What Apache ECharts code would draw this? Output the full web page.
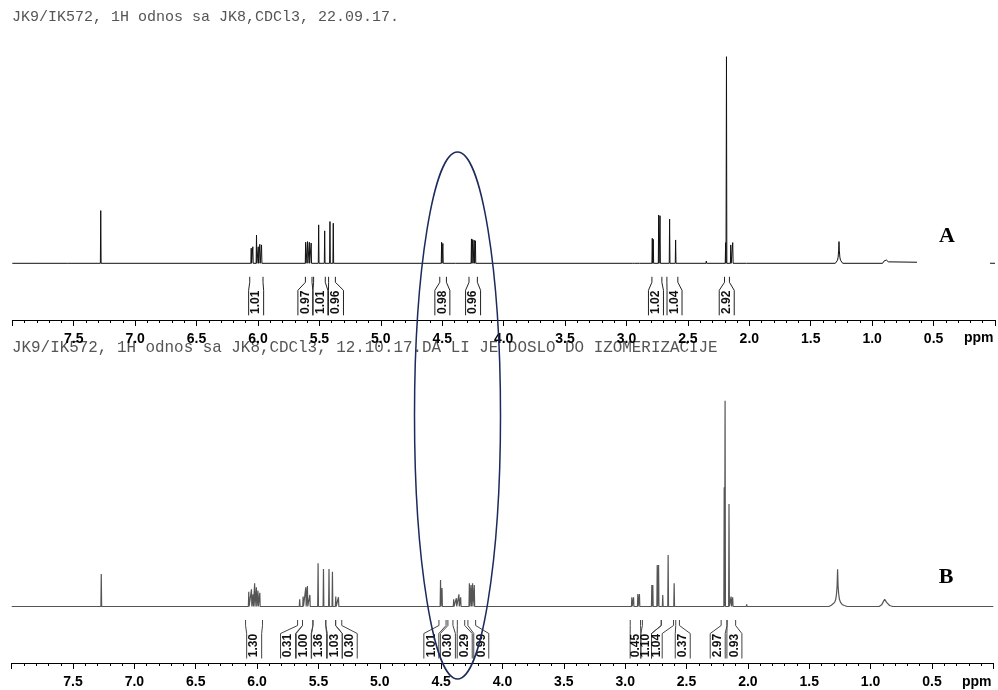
<!DOCTYPE html>
<html><head><meta charset="utf-8">
<script src="https://cdn.jsdelivr.net/npm/echarts@6/dist/echarts.min.js"></script>
<style>html,body{margin:0;padding:0;background:#fff}#c{width:998px;height:690px}</style>
</head><body><div id="c"></div>
<script>
// ---------------- DATA ----------------
const titleA = 'JK9/IK572, 1H odnos sa JK8,CDCl3, 22.09.17.';
const titleB = 'JK9/IK572, 1H odnos sa JK8,CDCl3, 12.10.17.DA LI JE DOSLO DO IZOMERIZACIJE';
const axisUnit = 'ppm';
const ppmMin = 0.0, ppmMax = 8.0, ppmStep = 0.5;
const tickLabels = [7.5, 7.0, 6.5, 6.0, 5.5, 5.0, 4.5, 4.0, 3.5, 3.0, 2.5, 2.0, 1.5, 1.0, 0.5];
const panelLabels = ['A', 'B'];

// sharp lines: [ppm, relative intensity] (tallest = 100)
const peaksA = [
  [7.78,0.5],[7.55,0.6],[7.28,25.5],
  [6.055,7.3],[6.042,8.0],[6.012,13.7],[5.998,8.0],[5.985,9.2],[5.971,8.9],
  [5.612,10.2],[5.597,10.5],[5.582,10.2],[5.567,9.8],
  [5.506,18.6],[5.457,15.7],[5.414,20.2],[5.387,19.4],
  [4.505,10.2],[4.495,9.6],
  [4.39,0.8],[4.36,0.6],
  [4.262,11.8],[4.252,11.5],[4.240,11.2],[4.230,10.9],
  [2.95,0.6],[2.93,0.8],[2.89,0.6],
  [2.790,12.1],[2.782,11.6],
  [2.738,23.4],[2.727,23.0],
  [2.649,21.4],
  [2.600,11.3],
  [2.35,1.1],
  [2.193,10.0],[2.186,100],
  [2.151,8.9],[2.135,10.0],
  [2.02,0.8]
];
// broad profiles: [ppm, relative intensity]
const broadA = [
  [1.30,0],[1.288,0.8],[1.282,1.5],[1.277,3],[1.273,6],[1.27,10.5],[1.267,6],[1.263,3],[1.258,1.5],[1.252,0.8],[1.24,0],
  [0.915,0],[0.905,1.0],[0.9,1.6],[0.895,1.4],[0.89,1.9],[0.885,1.6],[0.88,1.7],[0.875,1.2],[0.868,0.7],[0.855,0]
];

const peaksB = [
  [7.27,15.8],
  [6.068,7.2],[6.046,8.4],[6.033,5.9],[6.020,11.3],[6.006,9.3],[5.993,7.7],[5.978,6.7],
  [5.653,3.5],[5.625,4.8],[5.603,9.3],[5.590,10.0],[5.570,5.6],
  [5.503,21.0],[5.459,18.2],[5.414,18.2],[5.386,16.9],[5.359,4.8],[5.337,4.5],
  [4.505,12.9],[4.493,9.0],
  [4.398,3.5],[4.376,4.0],[4.355,5.9],[4.341,4.5],
  [4.270,11.3],[4.257,10.4],[4.244,11.3],[4.230,10.4],
  [2.946,4.5],[2.932,4.5],[2.897,6.1],[2.884,6.1],
  [2.783,10.4],[2.775,10.4],
  [2.739,20.2],[2.728,20.2],
  [2.694,5.6],
  [2.650,25.0],
  [2.601,11.3],
  [2.35,0.8],
  [2.193,58],[2.186,100],
  [2.154,49.8],
  [2.137,4.8],[2.124,4.5],
  [2.01,1.0]
];
const broadB = [
  [1.34,0],[1.32,0.6],[1.305,1.0],[1.293,2.0],[1.284,3.5],[1.278,6],[1.273,10],[1.269,18.1],[1.265,10],[1.26,6],[1.254,3.5],[1.245,2.0],[1.232,1.0],[1.215,0.5],[1.19,0],
  [0.93,0],[0.91,0.8],[0.90,1.6],[0.895,2.5],[0.89,3.0],[0.885,3.5],[0.88,3.4],[0.875,2.8],[0.87,2.0],[0.86,1.2],[0.845,0.5],[0.82,0]
];

// integrals: [from ppm, to ppm, label ppm, value]
const integralsA = [
  [6.067,5.959,6.015,1.01],
  [5.614,5.560,5.614,0.97],
  [5.547,5.452,5.492,1.01],
  [5.425,5.370,5.365,0.96],
  [4.520,4.466,4.499,0.98],
  [4.282,4.214,4.249,0.96],
  [2.793,2.712,2.760,1.02],
  [2.671,2.582,2.609,1.04],
  [2.202,2.162,2.184,2.92]
];
const integralsB = [
  [6.094,5.956,6.024,1.30],
  [5.670,5.630,5.748,0.31],
  [5.630,5.545,5.620,1.00],
  [5.545,5.440,5.495,1.36],
  [5.440,5.360,5.367,1.03],
  [5.360,5.310,5.245,0.30],
  [4.518,4.460,4.580,1.01],
  [4.445,4.404,4.445,0.30],
  [4.368,4.308,4.308,0.29],
  [4.282,4.219,4.173,0.99],
  [2.959,2.875,2.916,0.45],
  [2.860,2.706,2.829,1.10],
  [2.706,2.606,2.742,1.04],
  [2.588,2.558,2.531,0.37],
  [2.218,2.170,2.246,2.97],
  [2.170,2.100,2.110,0.93]
];

// ---------------- BUILD ----------------
function buildTrace(sharp, broad, hw) {
  const items = sharp.map(p => ({p: p[0], h: p[1], s: true}))
    .concat(broad.map(p => ({p: p[0], h: p[1], s: false})))
    .sort((a, b) => b.p - a.p);
  const out = [[ppmMax, 0]];
  for (let i = 0; i < items.length; i++) {
    const it = items[i];
    const prev = i > 0 ? items[i - 1].p : ppmMax;
    const next = i < items.length - 1 ? items[i + 1].p : ppmMin;
    if (it.s && prev - it.p > 2 * hw + 1e-9) out.push([it.p + hw, 0]);
    out.push([it.p, it.h]);
    if (it.s && it.p - next > 2 * hw + 1e-9) out.push([it.p - hw, 0]);
  }
  out.push([ppmMin, 0]);
  return out;
}

const FONT = '"Liberation Sans", Arial, Helvetica, sans-serif';

function integralSeries(list, gridIdx, color) {
  return {
    type: 'custom', xAxisIndex: gridIdx, yAxisIndex: gridIdx, silent: true, clip: false,
    data: list.map(r => [r[0], r[1], r[2], r[3]]),
    renderItem: function (params, api) {
      const i = params.dataIndex;
      const xa = api.coord([api.value(0), 0])[0];
      const xb = api.coord([api.value(1), 0])[0];
      const p0 = api.coord([api.value(2), 0]);
      const xl = p0[0], base = p0[1];
      let d = 15;
      if (i > 0) d = Math.min(d, Math.abs(api.coord([list[i - 1][2], 0])[0] - xl));
      if (i < list.length - 1) d = Math.min(d, Math.abs(api.coord([list[i + 1][2], 0])[0] - xl));
      const half = d / 2;
      const y0 = base + 13.5, y1 = base + 19, y2 = base + 27, y3 = base + 52;
      const L = xl - half, R = xl + half;
      const ls = {stroke: color, lineWidth: 1, fill: null};
      return {
        type: 'group',
        children: [
          {type: 'polyline', shape: {points: [[xa, y0], [xa, y1], [L, y2], [L, y3]]}, style: ls},
          {type: 'polyline', shape: {points: [[xb, y0], [xb, y1], [R, y2], [R, y3]]}, style: ls},
          {type: 'text', x: xl, y: base + 39, rotation: Math.PI / 2,
           style: {text: api.value(3).toFixed(2), font: 'bold 12px ' + FONT, fill: '#111',
                   align: 'center', verticalAlign: 'middle'}}
        ]
      };
    }
  };
}

function xAxisDef(gridIdx, offset) {
  return {
    type: 'value', gridIndex: gridIdx, min: ppmMin, max: ppmMax, interval: ppmStep, inverse: true,
    position: 'bottom', offset: offset,
    axisLine: {show: true, onZero: false, lineStyle: {color: '#000', width: 1}},
    axisTick: {show: true, length: 6, lineStyle: {color: '#000'}},
    minorTick: {show: true, splitNumber: 5, length: 3, lineStyle: {color: '#000'}},
    splitLine: {show: false},
    axisLabel: {
      margin: 12, color: '#000', fontWeight: 'bold', fontSize: 14, fontFamily: FONT,
      formatter: v => tickLabels.some(t => Math.abs(t - v) < 1e-6) ? v.toFixed(1) : ''
    }
  };
}

const chart = echarts.init(document.getElementById('c'), null, {renderer: 'canvas'});
chart.setOption({
  animation: false,
  backgroundColor: '#fff',
  grid: [
    {left: 12.3, width: 983.4, top: 56.7, height: 206.6},
    {left: 11.7, width: 981.6, top: 400.7, height: 205.8}
  ],
  xAxis: [xAxisDef(0, 56.7), xAxisDef(1, 56.5)],
  yAxis: [
    {type: 'value', gridIndex: 0, min: 0, max: 100, show: false},
    {type: 'value', gridIndex: 1, min: 0, max: 100, show: false}
  ],
  series: [
    {type: 'line', xAxisIndex: 0, yAxisIndex: 0, data: buildTrace(peaksA, broadA, 0.003),
     showSymbol: false, clip: false, lineStyle: {color: '#111', width: 1}, silent: true},
    {type: 'line', xAxisIndex: 1, yAxisIndex: 1, data: buildTrace(peaksB, broadB, 0.003),
     showSymbol: false, clip: false, lineStyle: {color: '#555', width: 1.2}, silent: true},
    integralSeries(integralsA, 0, '#222'),
    integralSeries(integralsB, 1, '#444')
  ],
  graphic: [
    {type: 'text', left: 12, top: 10, style: {text: titleA, font: '15px "Liberation Mono", "Courier New", monospace', fill: '#555'}},
    {type: 'text', left: 12, top: 340, style: {text: titleB, font: '15.9px "Liberation Mono", "Courier New", monospace', fill: '#555'}},
    {type: 'text', left: 964, top: 331, style: {text: axisUnit, font: 'bold 14px ' + FONT, fill: '#000'}},
    {type: 'text', left: 962, top: 675, style: {text: axisUnit, font: 'bold 14px ' + FONT, fill: '#000'}},
    {type: 'rect', shape: {x: 917, y: 222, width: 73, height: 48}, style: {fill: '#fff'}, z: 50},
    {type: 'text', x: 947, y: 236, z: 60, style: {text: panelLabels[0], font: 'bold 22px "Liberation Serif", "Times New Roman", serif', fill: '#000', align: 'center', verticalAlign: 'middle'}},
    {type: 'text', x: 946, y: 577, z: 60, style: {text: panelLabels[1], font: 'bold 22px "Liberation Serif", "Times New Roman", serif', fill: '#000', align: 'center', verticalAlign: 'middle'}},
    {type: 'ellipse', shape: {cx: 457.5, cy: 415.5, rx: 43, ry: 263.5}, style: {fill: null, stroke: '#1c2a5c', lineWidth: 1.5}, z: 70}
  ]
});
</script>
</body></html>
